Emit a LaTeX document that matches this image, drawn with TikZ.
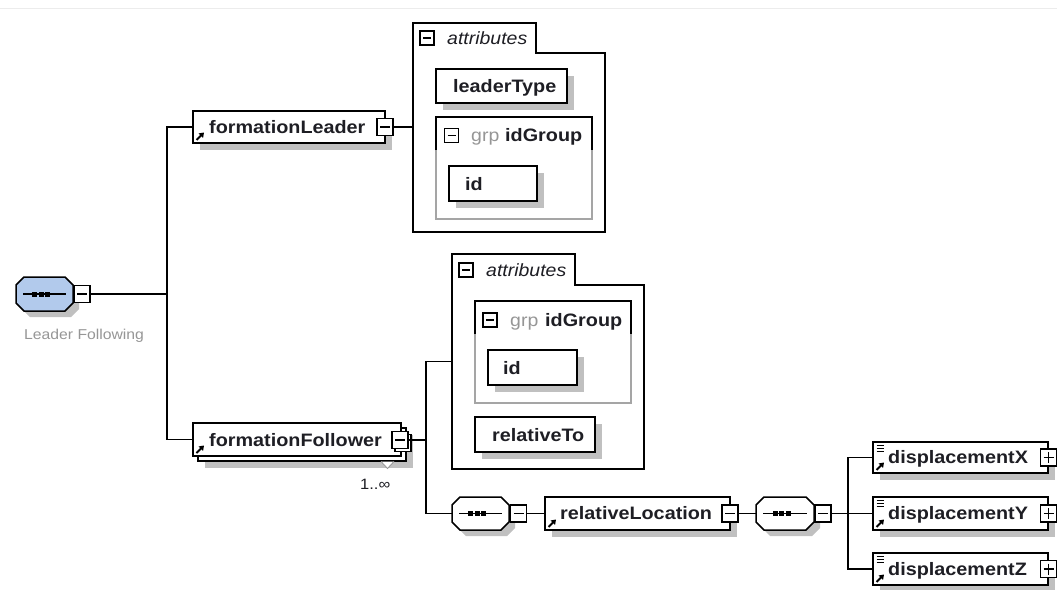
\documentclass[tikz,border=0pt]{standalone}
\usepackage{fontspec}
\setmainfont[FakeStretch=1.1]{Liberation Sans}
\usetikzlibrary{arrows.meta,calc}
\definecolor{shadowgray}{RGB}{192,192,192}
\definecolor{seqblue}{RGB}{178,202,236}
\definecolor{txt}{RGB}{30,30,36}
\definecolor{grptxt}{RGB}{150,150,150}
\definecolor{grpline}{RGB}{165,165,165}

\tikzset{
  boxshape/.style={draw, line width=1.5pt, fill=white, inner sep=0, outer sep=0, anchor=north west},
  lbl/.style={inner sep=0, anchor=base west, text=txt, font=\fontsize{18}{20}\selectfont\bfseries},
  itl/.style={inner sep=0, anchor=base west, text=txt, font=\fontsize{17.7}{20}\selectfont\itshape},
  grpl/.style={inner sep=0, anchor=base west, text=grptxt, font=\fontsize{17.7}{20}\selectfont},
  conn/.style={line width=1.5pt},
  eltgl/.style={draw, line width=1.2pt, fill=white, minimum width=16, minimum height=17, inner sep=0, outer sep=0},
  smtgl/.style={draw, line width=1.2pt, fill=white, minimum size=14, inner sep=0, outer sep=0},
}

% shadowed box: name, x1, y1, x2, y2
\newcommand\shadowed[5]{%
  \fill[shadowgray] (#2+7,#3+7) rectangle (#4+7,#5+7);
  \node[boxshape, minimum width={#4-#2}, minimum height={#5-#3}] (#1) at (#2,#3) {};}
% reference arrow icon
\newcommand\refarrow[1]{%
  \draw[line width=1.8pt, -{Triangle[length=4.5pt,width=6pt]}] ([xshift=3.5pt,yshift=3pt]#1.south west) -- ++(7.5,-7.5);}
% simple content icon
\newcommand\simpleicon[1]{%
  \foreach \d in {3,6,9} \draw[line width=1pt] ([xshift=3.5pt,yshift=-\d pt]#1.north west) -- ++(7,0);}
% toggles: name, x, y, style
\newcommand\minusbox[4]{%
  \node[#4] (#1) at (#2,#3) {};
  \draw[line width=1.3pt] ([xshift=3pt]#1.west) -- ([xshift=-3pt]#1.east);}
\newcommand\plusbox[4]{%
  \minusbox{#1}{#2}{#3}{#4}
  \draw[line width=1.3pt] ([yshift=-3pt]#1.north) -- ([yshift=3pt]#1.south);}
% octagon path: options, x1,y1,x2,y2
\newcommand\octpath[5]{%
  \path[#1] (#2+8,#3) -- (#4-8,#3) -- (#4,#3+8) -- (#4,#5-8) -- (#4-8,#5) -- (#2+8,#5) -- (#2,#5-8) -- (#2,#3+8) -- cycle;}
% sequence node: name, x1,y1,x2,y2, fill
\newcommand\seqnode[6]{%
  \octpath{fill=shadowgray, shift={(6,6)}}{#2}{#3}{#4}{#5}
  \octpath{fill=#6, draw, line width=1.5pt}{#2}{#3}{#4}{#5}
  \node[inner sep=0, outer sep=0, minimum width={#4-#2}, minimum height={#5-#3}, anchor=north west] (#1) at (#2,#3) {};
  \draw[line width=1.4pt] ([xshift=7pt]#1.west) -- ([xshift=-7pt]#1.east);
  \foreach \dx in {-10,-3.5,3} \fill ([xshift=\dx pt]#1.center) ++(-2.5,-2.5) rectangle ++(5,5);}
% attributes frame: name, x1,y1, tabx, taby, x2, y2
\newcommand\attrframe[7]{%
  \draw[line width=1.5pt, fill=white] (#2,#7) -- (#2,#3) -- (#4,#3) -- (#4,#5) -- (#6,#5) -- (#6,#7) -- cycle;
  \node[inner sep=0, outer sep=0, minimum width={#6-#2}, minimum height={#7-#3}, anchor=north west] (#1) at (#2,#3) {};}
% group frame: name, x1,y1,x2,y2
\newcommand\grpframe[5]{%
  \draw[grpline, line width=1.4pt, fill=white] (#2,#3) rectangle (#4,#5);
  \draw[black, line width=1.5pt] (#2,#3+33) -- (#2,#3) -- (#4,#3) -- (#4,#3+33);
  \node[inner sep=0, outer sep=0, minimum width={#4-#2}, minimum height={#5-#3}, anchor=north west] (#1) at (#2,#3) {};}

\begin{document}
\begin{tikzpicture}[x=1pt,y=-1pt]
\fill[white] (0,0) rectangle (1057,589);
\useasboundingbox (0,0) rectangle (1057,589);
\draw[gray!15, line width=1pt] (0,8) -- (1057,8);

% root sequence
\seqnode{root}{16}{277}{73}{311}{seqblue}
\minusbox{rootm}{82}{294}{eltgl}
\node[inner sep=0, anchor=base west, text=grptxt, font=\fontsize{14.3}{17}\selectfont] (rootlbl) at (24,339) {Leader Following};

% formationLeader
\shadowed{fL}{193}{111}{385}{143}
\refarrow{fL}
\node[lbl] (fLt) at (209,133.5) {formationLeader};
\minusbox{fLm}{385}{127}{eltgl}

% formationFollower
\fill[shadowgray] (205,435) rectangle (413,468);
\node[boxshape, minimum width=208, minimum height=33] (fFb) at (198,428) {};
\node[boxshape, minimum width=208, minimum height=33] (fF) at (193,423) {};
\refarrow{fF}
\node[lbl] (fFt) at (209,446) {formationFollower};
\node[eltgl] (fFmb) at (403,443) {};
\minusbox{fFm}{400}{440}{eltgl}
\draw[gray!80, line width=0.9pt, fill=white] (381,461.5) -- (387.5,468.5) -- (394,461.5);
\node[inner sep=0, anchor=base west, text=txt, font=\fontsize{15}{18}\selectfont] (fFocc) at (360,489) {1..∞};

% attributes of formationLeader
\attrframe{attrA}{413}{23}{536}{53}{605}{232}
\minusbox{attrAm}{427}{38}{smtgl}
\node[itl] (attrAt) at (447,44.5) {attributes};
\shadowed{lt}{436}{69}{567}{103}
\node[lbl] (ltt) at (453,92) {leaderType};
\grpframe{g1}{436}{117}{592}{219}
\minusbox{g1m}{451.5}{135.5}{smtgl}
\node[grpl] (g1a) at (471,141) {grp};
\node[lbl] (g1b) at (505,141) {idGroup};
\shadowed{id1}{449}{166}{537}{201}
\node[lbl] (id1t) at (465,190) {id};

% attributes of formationFollower
\attrframe{attrB}{452}{254}{575}{285}{644}{469}
\minusbox{attrBm}{466}{270}{smtgl}
\node[itl] (attrBt) at (486,276.5) {attributes};
\grpframe{g2}{475}{301}{631}{403}
\minusbox{g2m}{490}{320}{smtgl}
\node[grpl] (g2a) at (510,326) {grp};
\node[lbl] (g2b) at (545,326) {idGroup};
\shadowed{id2}{488}{350}{577}{385}
\node[lbl] (id2t) at (503,374) {id};
\shadowed{rt}{475}{417}{595}{452}
\node[lbl] (rtt) at (492,441) {relativeTo};

% second sequence and relativeLocation
\seqnode{seqB}{452}{497}{509}{530}{white}
\minusbox{seqBm}{518.5}{513.5}{eltgl}
\shadowed{rl}{545}{497}{730}{530}
\refarrow{rl}
\node[lbl] (rlt) at (560,519.5) {relativeLocation};
\minusbox{rlm}{730}{513.5}{eltgl}

% third sequence
\seqnode{seqC}{756}{497}{814}{530}{white}
\minusbox{seqCm}{823}{513.5}{eltgl}

% displacements
\shadowed{dX}{873}{442}{1048}{473}
\simpleicon{dX}\refarrow{dX}
\node[lbl] (dXt) at (888,463.5) {displacementX};
\plusbox{dXp}{1048.5}{457.5}{eltgl}
\shadowed{dY}{873}{497}{1048}{530}
\simpleicon{dY}\refarrow{dY}
\node[lbl] (dYt) at (888,519.5) {displacementY};
\plusbox{dYp}{1048.5}{513.5}{eltgl}
\shadowed{dZ}{873}{553}{1048}{585}
\simpleicon{dZ}\refarrow{dZ}
\node[lbl] (dZt) at (888,575) {displacementZ};
\plusbox{dZp}{1048.5}{569}{eltgl}

% connectors
\coordinate (j1) at (167,294);
\coordinate (j2) at (426,440);
\coordinate (j3) at (848,513.5);
\draw[conn] (rootm.east) -- (j1);
\draw[conn] (fL.west) -| (j1) |- (fF.west);
\draw[conn] (fLm.east) -- (fLm.east -| attrA.west);
\draw[conn] (fFm.east) -- (j2);
\draw[conn] (attrB.west) -| (j2) |- (seqB.west);
\draw[conn] (seqBm.east) -- (rl.west);
\draw[conn] (rlm.east) -- (seqC.west);
\draw[conn] (seqCm.east) -- (j3);
\draw[conn] (dX.west) -| (j3) |- (dZ.west);
\draw[conn] (j3) -- (dY.west);
\end{tikzpicture}
\end{document}
